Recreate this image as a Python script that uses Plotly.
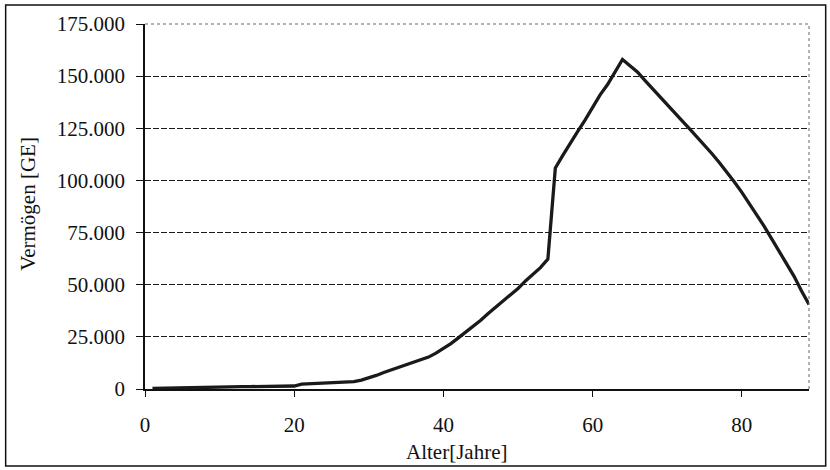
import plotly.graph_objects as go

# Alter in Jahren und Vermögen in GE
alter = list(range(1, 90))
vermoegen = [
    300, 400, 450, 500, 550, 600, 650, 700, 750, 800,
    1000, 1050, 1100, 1150, 1200, 1250, 1300, 1350, 1400, 1450,
    2300, 2500, 2600, 2700, 3200, 3300, 3400, 3500, 4300, 5200,
    6500, 7900, 9200, 10400, 11500, 12700, 14000, 15300, 17200, 19300,
    21800, 24500, 27300, 30000, 33000, 36200, 39200, 42000, 45000, 48200,
    51800, 55000, 58200, 62300, 106000, 112000, 118000, 123500, 129000, 135000,
    141000, 146000, 152000, 158000, 155000, 152000, 148000, 144000, 140500, 136500,
    132500, 128500, 124700, 120800, 117000, 112800, 108500, 104000, 99200, 94300,
    89000, 83600, 78000, 72000, 66000, 60000, 54000, 47000, 40500,
]
y_ticks = [0, 25000, 50000, 75000, 100000, 125000, 150000, 175000]
x_ticks = [0, 20, 40, 60, 80]

W, H = 830, 470
L, R, T, B = 144.5, 20.7, 24, 81
pw, ph = W - L - R, H - T - B

def px_x(p):
    return (p - L) / pw

def px_y(p):
    return (H - B - p) / ph

FONT = "Liberation Serif, Times New Roman, serif"

fig = go.Figure(go.Scatter(
    x=alter, y=vermoegen, mode="lines",
    line=dict(color="#1a1a1a", width=3.3),
    showlegend=False, hoverinfo="x+y",
))

fig.update_layout(
    width=W, height=H,
    margin=dict(l=L, r=R, t=T, b=B),
    paper_bgcolor="white", plot_bgcolor="white",
    separators=",.",
    font=dict(family=FONT, size=21, color="#111"),
    xaxis=dict(
        range=[0, 89], tickvals=x_ticks, showgrid=False, zeroline=False,
        showline=True, linecolor="#111", linewidth=1.5,
        ticks="outside", ticklen=6, tickcolor="#111",
        ticklabelstandoff=10,
    ),
    yaxis=dict(
        range=[0, 175000], tickvals=y_ticks, tickformat=",.0f",
        showgrid=True, gridcolor="#1a1a1a", gridwidth=1.2, griddash="6px,2px",
        zeroline=False, showline=True, linecolor="#111", linewidth=1.5,
        ticks="outside", ticklen=7, tickcolor="#111",
        ticklabelstandoff=7,
    ),
    shapes=[
        # dotted plot area frame (top and right)
        dict(type="line", xref="paper", yref="paper", x0=0, x1=1, y0=1, y1=1,
             line=dict(color="#666", width=1, dash="dot")),
        dict(type="line", xref="paper", yref="paper", x0=1, x1=1, y0=0, y1=1,
             line=dict(color="#666", width=1, dash="dot")),
        # outer chart frame
        dict(type="rect", xref="paper", yref="paper",
             x0=px_x(5), x1=px_x(826), y0=px_y(466), y1=px_y(5),
             line=dict(color="#111", width=1.5)),
    ],
    annotations=[
        dict(text="Vermögen [GE]", xref="paper", yref="paper",
             x=px_x(27), y=px_y(204), textangle=-90, showarrow=False,
             font=dict(size=21), xanchor="center", yanchor="middle"),
        dict(text="Alter[Jahre]", xref="paper", yref="paper",
             x=px_x(456), y=px_y(452), showarrow=False,
             font=dict(size=21), xanchor="center", yanchor="middle"),
    ],
)

# the page's default 8px body margin would push the chart off the window
fig.write_html(
    "out.html",
    config={"displayModeBar": False},
    post_script="document.body.style.margin = '0';",
)
